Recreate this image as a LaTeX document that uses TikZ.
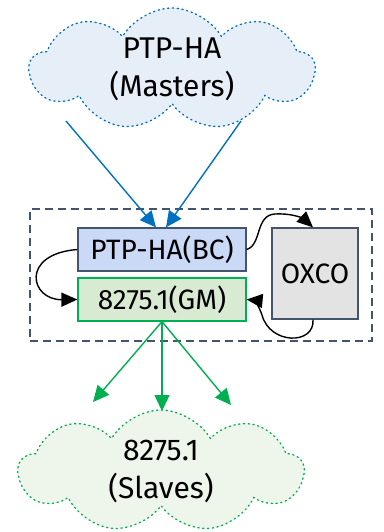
\documentclass[tikz,border=0pt]{standalone}
\usepackage{fontspec}
\setmainfont{Fira Sans}
\usetikzlibrary{shapes.symbols,arrows.meta}
\definecolor{mblue}{HTML}{0070C0}
\definecolor{cloudblue}{HTML}{E6EEF8}
\definecolor{mgreen}{HTML}{00B050}
\definecolor{cloudgreen}{HTML}{EEF5EA}
\definecolor{slate}{HTML}{44546A}
\definecolor{bcfill}{HTML}{C9D9F6}
\definecolor{gmfill}{HTML}{D9EAD3}
\definecolor{oxfill}{HTML}{E3E3E3}
\tikzset{
  netcloud/.style={cloud, cloud puffs=9, cloud puff arc=120, cloud ignores aspect, draw,
    dash pattern=on 1.3pt off 3.5pt, line width=1.3pt, line cap=round,
    minimum width=285pt, minimum height=122pt, align=center, inner sep=0pt,
    font=\fontsize{30}{38}\selectfont},
  unitbox/.style={draw, line width=1.2pt, minimum width=168pt, minimum height=43pt,
    inner sep=0pt, font=\fontsize{28}{30}\selectfont},
  linkarrow/.style={line width=1.4pt, -{Triangle[length=16pt,width=15pt]}},
  loop/.style={line width=1.4pt, black, -{Triangle[length=16pt,width=14pt]}}
}
\begin{document}
\begin{tikzpicture}[x=1pt,y=-1pt]
\useasboundingbox (0,0) rectangle (383,532);
% network clouds
\node[netcloud, draw=mblue, fill=cloudblue] (masters) at (172,69) {PTP-HA\\(Masters)};
\node[netcloud, draw=mgreen, fill=cloudgreen] (slaves) at (161,471) {8275.1\\(Slaves)};
% equipment boundary
\node[draw=slate, dash pattern=on 8pt off 5pt, line width=1.3pt, minimum width=342pt, minimum height=132pt] (equip) at (201,275) {};
% functional units
\node[unitbox, draw=slate, fill=bcfill] (bc) at (162,249.5) {PTP-HA(BC)};
\node[unitbox, draw=mgreen, fill=gmfill] (gm) at (162,299.5) {8275.1(GM)};
\node[draw=slate, fill=oxfill, line width=1.2pt, minimum width=86pt, minimum height=91pt,
  inner sep=0pt, font=\fontsize{28}{30}\selectfont] (ox) at (315,273.5) {OXCO};
% anchor points for the links
\coordinate (m1) at (66,121);
\coordinate (m2) at (241,121);
\coordinate (s1) at (93,402);
\coordinate (s2) at (162,411);
\coordinate (s3) at (231,405);
% master links
\draw[linkarrow, mblue] (m1) -- ([xshift=-6pt]bc.north);
\draw[linkarrow, mblue] (m2) -- ([xshift=4pt]bc.north);
% slave links
\draw[linkarrow, mgreen] (gm.south) -- (s1);
\draw[linkarrow, mgreen] (gm.south) -- (s2);
\draw[linkarrow, mgreen] (gm.south) -- (s3);
% internal loops
\draw[loop] (bc.west) .. controls (20,254) and (30,300) .. (gm.west);
\draw[loop] (bc.east) .. controls (262,245) and (255,215) .. (275,214) .. controls (295,213) and (305,220) .. ([xshift=-2pt]ox.north);
\draw[loop] ([xshift=-2pt]ox.south) .. controls (315,345) and (270,345) .. (262,315) .. controls (258,303) and (252,300) .. (gm.east);
\end{tikzpicture}
\end{document}
